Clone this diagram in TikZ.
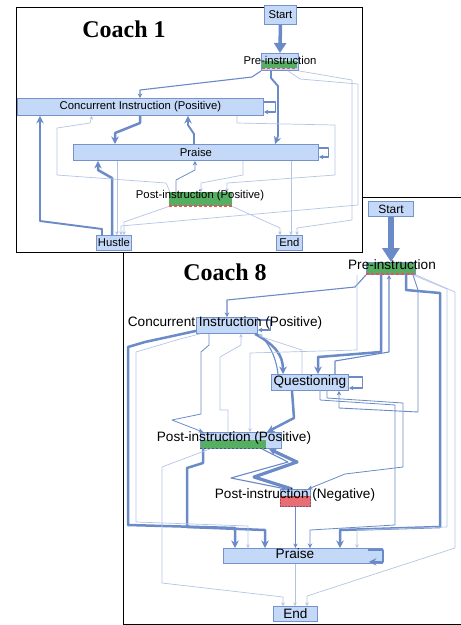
\documentclass[tikz,border=0pt]{standalone}
\usepackage{fontspec}
\setmainfont{Liberation Sans}
\newfontfamily\titlefont{Liberation Serif}
\usetikzlibrary{arrows.meta}
\definecolor{bxfill}{HTML}{C4D8F8}
\definecolor{bxdraw}{HTML}{7592CC}
\definecolor{edgeS}{HTML}{6A8AC8}
\definecolor{edgeL}{HTML}{B3C5E6}
\definecolor{grn}{HTML}{55AE62}
\definecolor{rdd}{HTML}{E2555C}
\begin{document}
\begin{tikzpicture}[x=1pt,y=-1pt,
 bx/.style={draw=bxdraw, fill=bxfill, line width=0.9pt, inner sep=0pt, anchor=north west},
 lbA/.style={font=\fontsize{11.3}{13}\selectfont, inner sep=0pt},
 lbB/.style={font=\fontsize{13.6}{15}\selectfont, inner sep=0pt},
 lbS/.style={font=\fontsize{12}{14}\selectfont, inner sep=0pt},
 ttl/.style={font=\titlefont\bfseries\fontsize{24}{26}\selectfont, inner sep=0pt},
 eS/.style={draw=edgeS, line width=2.5pt, line join=round, -{Stealth[length=7.5pt,width=7.5pt]}},
 eM/.style={draw=edgeS, line width=1.1pt, line join=round, -{Stealth[length=4.5pt,width=4.5pt]}},
 eL/.style={draw=edgeL, line width=0.7pt, line join=round, -{Stealth[length=3.5pt,width=3.5pt]}},
 eX/.style={draw=edgeS, line width=5.5pt, -{Triangle[length=14pt,width=17pt]}},
 eXs/.style={draw=edgeS, line width=3.5pt, -{Triangle[length=10pt,width=12pt]}},
]
\useasboundingbox (0,0) rectangle (461,625);
% ---------- Coach 8 frame ----------
\draw[line width=0.8pt] (470,197) -- (123,197) -- (123,624) -- (470,624);
% ---------- Coach 1 frame ----------
\draw[line width=0.8pt, fill=white] (16,7) rectangle (362,252);

% ================= Coach 1 boxes =================
\node[bx, minimum width=32pt, minimum height=19pt, lbA] (c1start) at (264,5) {Start};
\node[bx, minimum width=37pt, minimum height=17pt] (c1pre) at (261,53) {};
\fill[grn] (262,61) rectangle (297,68);
\draw[rdd, line width=1.3pt, dash pattern=on 3pt off 2pt] (262,68.5) -- (297,68.5);
\node[bx, minimum width=246pt, minimum height=17pt, lbA] (c1ci) at (17,98) {Concurrent Instruction (Positive)};
\node[bx, minimum width=245pt, minimum height=16pt, lbA] (c1praise) at (73,144) {Praise};
\node[fill=grn, inner sep=0pt, anchor=north west, minimum width=63pt, minimum height=14pt] (c1post) at (169,192) {};
\draw[rdd, line width=1.2pt, dash pattern=on 3pt off 2pt] (169,206) -- (232,206);
\node[bx, minimum width=35pt, minimum height=15pt, lbA] (c1hustle) at (96,235) {Hustle};
\node[bx, minimum width=26pt, minimum height=15pt, lbA] (c1end) at (276,235) {End};

% ================= Coach 1 edges =================
\draw[eXs] (c1start.south) -- (c1pre.north);
\draw[eM] (c1pre.south west) -- (252,77) -- (140,90) -- (140,0 |- c1ci.north);
\draw[eS, line width=1.9pt] (271,0 |- c1pre.south) -- (271,78) -- (278,86) -- (278,136) -- (275,0 |- c1praise.north);
\draw[eS] (140,0 |- c1ci.south) -- (140,123) -- (115,133) -- (115,0 |- c1praise.north);
\draw[eS, line width=1.9pt] (194,0 |- c1praise.north) -- (194,134) -- (188,125) -- (188,0 |- c1ci.south);
\draw[eS, line width=1.9pt] (102,0 |- c1hustle.north) -- (102,229) -- (40,221) -- (40,0 |- c1ci.south);
\draw[eS] (112,0 |- c1hustle.north) -- (112,178) -- (98,170) -- (98,0 |- c1praise.south);
\draw[eL] (170,0 |- c1post.north) -- (166,183) -- (57,175) -- (57,128) -- (90,123) -- (92,0 |- c1ci.south);
\draw[eM, line width=0.8pt] (176,0 |- c1post.north) -- (176,180) -- (195,170) -- (195,0 |- c1praise.south);
\draw[eL] (243,0 |- c1praise.south) -- (243,175) -- (201,183) -- (201,0 |- c1post.north);
\draw[eL] (237,0 |- c1ci.south) -- (237,123) -- (335,125) -- (335,175) -- (227,183) -- (227,0 |- c1post.north);
\draw[eL] (117,0 |- c1praise.south) -- (117,0 |- c1hustle.north);
\draw[eL] (c1post.south west) -- (124,222) -- (124,0 |- c1hustle.north);
\draw[eL] (c1post.south east) -- (280,228) -- (280,0 |- c1end.north);
\draw[eL] (291,0 |- c1praise.south) -- (291,0 |- c1end.north);
\draw[eL] (c1pre.south east) -- (352,80) -- (352,220) -- (297,228) -- (297,0 |- c1end.north);
\draw[eL] (288,0 |- c1pre.south) -- (300,79) -- (358,84) -- (358,205) -- (121,226) -- (121,0 |- c1hustle.north);
\draw[eM] ([yshift=-4pt]c1ci.north east) -- ++(12,0) -- ++(0,10) -- ++(-12,0);
\draw[eM] ([yshift=-4pt]c1praise.north east) -- ++(10,0) -- ++(0,9) -- ++(-10,0);

% ================= Coach 8 boxes =================
\node[bx, minimum width=45pt, minimum height=15pt, lbS] (c8start) at (368,201) {Start};
\node[bx, fill=grn, minimum width=49pt, minimum height=12pt] (c8pre) at (366,262) {};
\draw[rdd, line width=1.3pt, dash pattern=on 3pt off 2pt] (366,274) -- (415,274);
\node[bx, minimum width=61pt, minimum height=16pt] (c8ci) at (196,317) {};
\node[bx, minimum width=77pt, minimum height=16pt, lbB] (c8q) at (271,374) {Questioning};
\node[bx, minimum width=81pt, minimum height=16pt] (c8pp) at (200,432) {};
\fill[grn] (200.5,440) rectangle (266,447.5);
\draw[grn!60!black, line width=0.8pt, dash pattern=on 2pt off 2pt] (200,448) -- (266,448);
\node[bx, minimum width=30pt, minimum height=17pt] (c8pn) at (280,489) {};
\draw[rdd!80!black, fill=rdd!85, line width=0.6pt, dash pattern=on 2pt off 1pt] (280,496) rectangle (310,506);
\node[bx, minimum width=159pt, minimum height=15pt] (c8praise) at (223,548) {};
\node[bx, minimum width=44pt, minimum height=15pt, lbB] (c8end) at (273,606) {End};

% ================= Coach 8 edges =================
\draw[eX] (c8start.south) -- (c8pre.north);
\draw[eM] (c8pre.south west) -- (355,287) -- (227,300) -- (227,0 |- c8ci.north);
\draw[eS] (381,0 |- c8pre.south) -- (381,352) -- (318,357) -- (318,0 |- c8q.north);
\draw[eS] (255,0 |- c8ci.south) .. controls (275,345) and (283,355) .. (283,0 |- c8q.north);
\draw[eM] (278,0 |- c8q.north) .. controls (276,356) and (268,342) .. (c8ci.south east);
\draw[eM] (335,0 |- c8q.north) -- (335,361) -- (389,352) -- (389,0 |- c8pre.south);
\draw[eS] (292,0 |- c8q.south) -- (294,418) -- (267,0 |- c8pp.north);
\draw[eM] (262,0 |- c8pp.south) -- (288,462) -- (231,478) -- (286,0 |- c8pn.north);
\draw[eS, line width=3.2pt] (292,0 |- c8pn.north) -- (254,477) -- (297,462) -- (269,0 |- c8pp.south);
\draw[eM, line width=1.6pt] (c8pn.south) -- (c8pn.south |- c8praise.north);
\draw[eS] (203,0 |- c8pp.south) -- (203,463) -- (187,468) -- (187,527) -- (265,530) -- (265,0 |- c8praise.north);
\draw[eS] ([yshift=3pt]c8ci.south west) -- (145,342) -- (128,347) -- (128,525) -- (235,528) -- (235,0 |- c8praise.north);
\draw[eS] (406,0 |- c8pre.south) -- (406,290) -- (440,293) -- (440,527) -- (340,530) -- (340,0 |- c8praise.north);
\draw[eM, line width=0.8pt] (320,0 |- c8q.south) -- (320,400) -- (395,405) -- (395,525) -- (310,530) -- (310,0 |- c8praise.north);
\draw[eM, line width=0.8pt] (327,0 |- c8q.south) -- (327,398) -- (403,403) -- (403,467) -- (345,474) -- (308,0 |- c8pn.north);
\draw[eM, line width=0.9pt] (413,0 |- c8pre.south) -- (418,290) -- (418,412) -- (339,408) -- (339,0 |- c8q.south);
\draw[eM, line width=0.8pt] (209,0 |- c8ci.south) -- (209,345) -- (201,352) -- (201,414) -- (172,420) -- (203,0 |- c8pp.north);
\draw[eL] (228,0 |- c8pp.north) -- (228,410) -- (220,410) -- (220,357) -- (241,345) -- (241,0 |- c8ci.south);
\draw[eL] (302,0 |- c8q.north) -- (302,350) -- (262,337) -- ([xshift=1pt]c8ci.south east);
\draw[eL] (357,0 |- c8pre.south) -- (357,350) -- (250,353) -- (250,0 |- c8pp.north);
\draw[eL] (c8pre.south east) -- (455,292) -- (455,548) -- (307,596) -- (307,0 |- c8end.north);
\draw[eL] ([xshift=-3pt]c8pre.south east) -- (447,289) -- (447,527) -- (357,530) -- (357,0 |- c8praise.north);
\draw[eL] (200,0 |- c8ci.south) -- (180,339) -- (136,352) -- (136,522) -- (248,526) -- (248,0 |- c8praise.north);
\draw[eL] (210,0 |- c8pp.south) -- (162,467) -- (162,583) -- (283,597) -- (283,0 |- c8end.north);
\draw[eL] (295,0 |- c8praise.south) -- (295,0 |- c8end.north);
\draw[eM] ([yshift=-3pt]c8ci.north east) -- ++(13,0) -- ++(0,10) -- ++(-13,0);
\draw[eM] ([yshift=-3pt]c8q.north east) -- ++(14,0) -- ++(0,11) -- ++(-14,0);
\draw[eS, line width=1.6pt] ([xshift=-15pt,yshift=-2pt]c8praise.north east) -- ([yshift=-2pt]c8praise.north east) -- ([yshift=2pt]c8praise.south east) -- ([xshift=-14pt,yshift=2pt]c8praise.south east);

% ================= labels =================
\node[ttl] (t1) at (124,29) {Coach 1};
\node[ttl] (t8) at (225,272) {Coach 8};
\node[lbA] (c1pret) at (280,60) {Pre-instruction};
\node[lbA] (c1postt) at (200,196) {Post-instruction (Positive)};
\node[lbB] (c8pret) at (392,265) {Pre-instruction};
\node[lbB] (c8cit) at (225,323) {Concurrent Instruction (Positive)};
\node[lbB] (c8ppt) at (234,438) {Post-instruction (Positive)};
\node[lbB] (c8pnt) at (295,495) {Post-instruction (Negative)};
\node[lbB] (c8praiset) at (295,554) {Praise};
\end{tikzpicture}
\end{document}
